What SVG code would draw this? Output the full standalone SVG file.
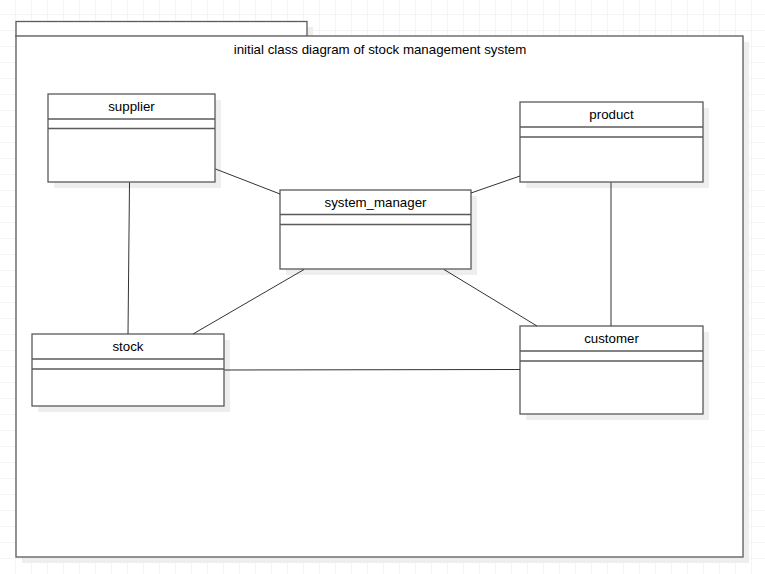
<svg xmlns="http://www.w3.org/2000/svg" width="765" height="574" viewBox="0 0 765 574">
<defs>
<pattern id="grid" width="16" height="16" patternUnits="userSpaceOnUse" x="0" y="-1">
<path d="M16 0V16M0 16H16" fill="none" stroke="#ebebeb" stroke-width="1"/>
</pattern>
</defs>
<style>
.box{fill:#ffffff;stroke:#5a5a5a;stroke-width:1.3}
.sh{fill:#eeeeee}
.sep{stroke:#5a5a5a;stroke-width:1.3}
.lbl{font-family:"Liberation Sans",Arial,sans-serif;font-size:13.3px;fill:#000;text-anchor:middle}
.con{stroke:#333;stroke-width:1;fill:none}
</style>
<rect x="0" y="0" width="765" height="574" fill="#ffffff"/>
<rect x="0" y="0" width="765" height="574" fill="url(#grid)"/>
<g id="package">
<rect class="sh" x="22" y="42" width="727" height="521"/>
<rect class="sh" x="22" y="27" width="291" height="15"/>
<rect class="box" x="16" y="21.5" width="291" height="15"/>
<rect class="box" x="16" y="36" width="727" height="521"/>
<text class="lbl" x="380" y="53.5">initial class diagram of stock management system</text>
</g>
<g id="supplier">
<rect class="sh" x="54" y="100" width="167" height="88"/>
<rect class="box" x="48" y="94" width="167" height="88"/>
<line class="sep" x1="48" y1="119" x2="215" y2="119"/>
<line class="sep" x1="48" y1="128.5" x2="215" y2="128.5"/>
<text class="lbl" x="131.5" y="111">supplier</text>
</g>
<g id="system_manager">
<rect class="sh" x="286" y="196" width="191" height="79"/>
<rect class="box" x="280" y="190" width="191" height="79"/>
<line class="sep" x1="280" y1="214.5" x2="471" y2="214.5"/>
<line class="sep" x1="280" y1="224.5" x2="471" y2="224.5"/>
<text class="lbl" x="375.5" y="207">system_manager</text>
</g>
<g id="product">
<rect class="sh" x="526" y="108" width="183" height="80"/>
<rect class="box" x="520" y="102" width="183" height="80"/>
<line class="sep" x1="520" y1="127" x2="703" y2="127"/>
<line class="sep" x1="520" y1="137" x2="703" y2="137"/>
<text class="lbl" x="611.5" y="119">product</text>
</g>
<g id="stock">
<rect class="sh" x="38" y="340" width="192" height="72"/>
<rect class="box" x="32" y="334" width="192" height="72"/>
<line class="sep" x1="32" y1="359" x2="224" y2="359"/>
<line class="sep" x1="32" y1="369" x2="224" y2="369"/>
<text class="lbl" x="128" y="351">stock</text>
</g>
<g id="customer">
<rect class="sh" x="526" y="332" width="183" height="88"/>
<rect class="box" x="520" y="326" width="183" height="88"/>
<line class="sep" x1="520" y1="351" x2="703" y2="351"/>
<line class="sep" x1="520" y1="361" x2="703" y2="361"/>
<text class="lbl" x="611.5" y="343">customer</text>
</g>
<g id="connectors">
<line class="con" x1="215.5" y1="169" x2="280" y2="194"/>
<line class="con" x1="471" y1="193" x2="520" y2="176"/>
<line class="con" x1="129.5" y1="182.5" x2="128" y2="334"/>
<line class="con" x1="304" y1="269.5" x2="193" y2="334"/>
<line class="con" x1="444" y1="269.5" x2="537" y2="326"/>
<line class="con" x1="611" y1="182.5" x2="611" y2="326"/>
<line class="con" x1="224.5" y1="370" x2="520" y2="369.5"/>
</g>
</svg>
